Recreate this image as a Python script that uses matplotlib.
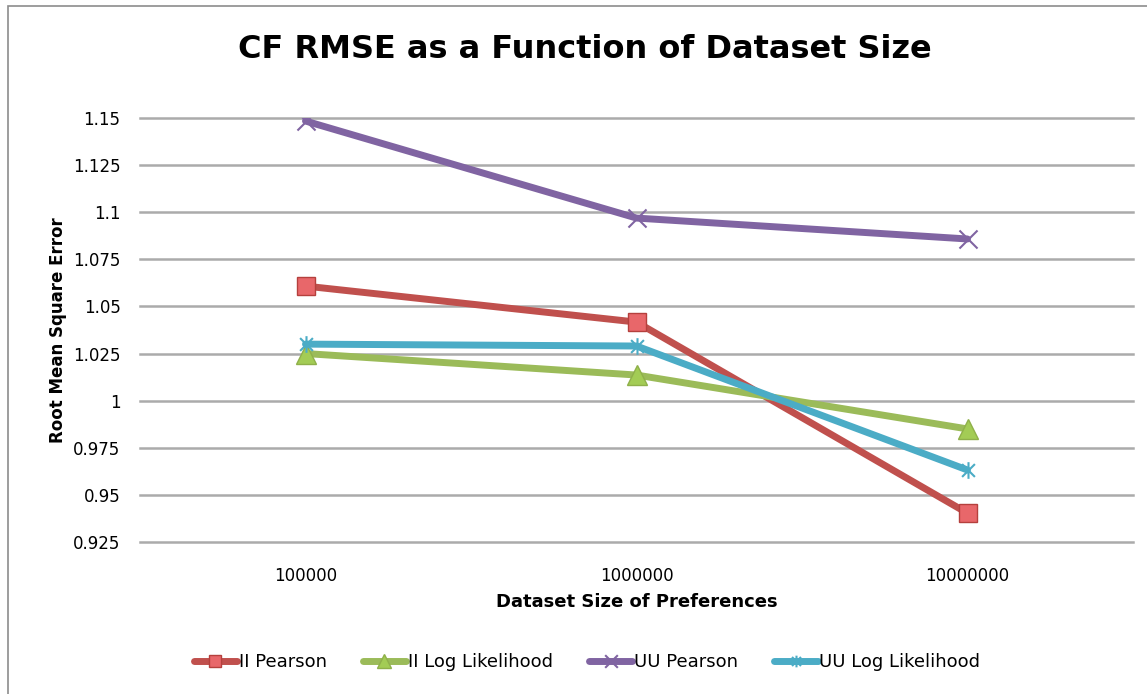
import matplotlib
matplotlib.use("Agg")
import matplotlib.pyplot as plt
from matplotlib.path import Path
from matplotlib.patches import Rectangle

categories = ["100000", "1000000", "10000000"]
ii_pearson = [1.0608, 1.0417, 0.9403]
ii_loglik = [1.0250, 1.0136, 0.9850]
uu_pearson = [1.1484, 1.0969, 1.0858]
uu_loglik = [1.0300, 1.0290, 0.9632]
series_names = ["II Pearson", "II Log Likelihood", "UU Pearson", "UU Log Likelihood"]
yticks = [0.925, 0.95, 0.975, 1.0, 1.025, 1.05, 1.075, 1.1, 1.125, 1.15]
ytick_labels = ["0.925", "0.95", "0.975", "1", "1.025", "1.05", "1.075", "1.1", "1.125", "1.15"]

plt.rcParams['font.family'] = ['DejaVu Sans']

star_path = Path([(-1, -1), (1, 1), (-1, 1), (1, -1), (0, -1.3), (0, 1.3)],
                 [Path.MOVETO, Path.LINETO, Path.MOVETO, Path.LINETO, Path.MOVETO, Path.LINETO])
x_path = Path([(-1, -1), (1, 1), (-1, 1), (1, -1)],
              [Path.MOVETO, Path.LINETO, Path.MOVETO, Path.LINETO])

fig = plt.figure(figsize=(11.47, 6.94), dpi=100)
fig.patches.append(Rectangle((8/1147, -0.1), 1.2, 1.1 - 6/694, transform=fig.transFigure,
                             fill=False, edgecolor="#8c8c8c", linewidth=1.2, clip_on=False))
ax = fig.add_axes([140/1147, 1 - 542/694, (1133-140)/1147, (542-118)/694])

x = list(range(len(categories)))
styles = [
    dict(color="#C0504D", marker="s", markersize=13, markerfacecolor="#E8676A", markeredgecolor="#B5403D", markeredgewidth=1),
    dict(color="#9BBB59", marker="^", markersize=14, markerfacecolor="#A3CC55", markeredgecolor="#8FB04A", markeredgewidth=1),
    dict(color="#8064A2", marker=x_path, markersize=13, markeredgecolor="#8064A2", markeredgewidth=1.5),
    dict(color="#4BACC6", marker=star_path, markersize=12, markeredgecolor="#4BACC6", markeredgewidth=1.5),
]
data = [ii_pearson, ii_loglik, uu_pearson, uu_loglik]
handles = []
for name, vals, st in zip(series_names, data, styles):
    h, = ax.plot(x, vals, linewidth=5, label=name, solid_capstyle="round", zorder=3, **st)
    handles.append(h)

ax.set_xlim(-0.5, 2.5)
ax.set_ylim(0.925, 1.15)
ax.set_yticks(yticks)
ax.set_yticklabels(ytick_labels)
ax.set_xticks(x)
ax.set_xticklabels(categories)
ax.tick_params(axis="both", length=0, labelsize=12, colors="#000000")
ax.tick_params(axis="y", pad=14)
ax.tick_params(axis="x", pad=18)
ax.grid(axis="y", color="#ababab", linewidth=1.8, zorder=0)
for gl in ax.get_ygridlines():
    gl.set_clip_on(False)
ax.set_axisbelow(True)
for s in ax.spines.values():
    s.set_visible(False)

ax.set_xlabel("Dataset Size of Preferences", fontsize=13, fontweight="bold", labelpad=6)
ax.set_ylabel("Root Mean Square Error", fontsize=12, fontweight="bold", labelpad=4)
fig.text(585/1147, 1 - 50/694, "CF RMSE as a Function of Dataset Size", ha="center", va="center",
         fontsize=23, fontweight="bold")

fig.legend(handles=handles, labels=series_names, loc="center", bbox_to_anchor=(587/1147, 1 - 662/694),
           ncol=4, frameon=False, fontsize=13, handlelength=2.4, handletextpad=0.1, columnspacing=2.0,
           markerscale=0.7)

fig.savefig("out.png", dpi=100)
